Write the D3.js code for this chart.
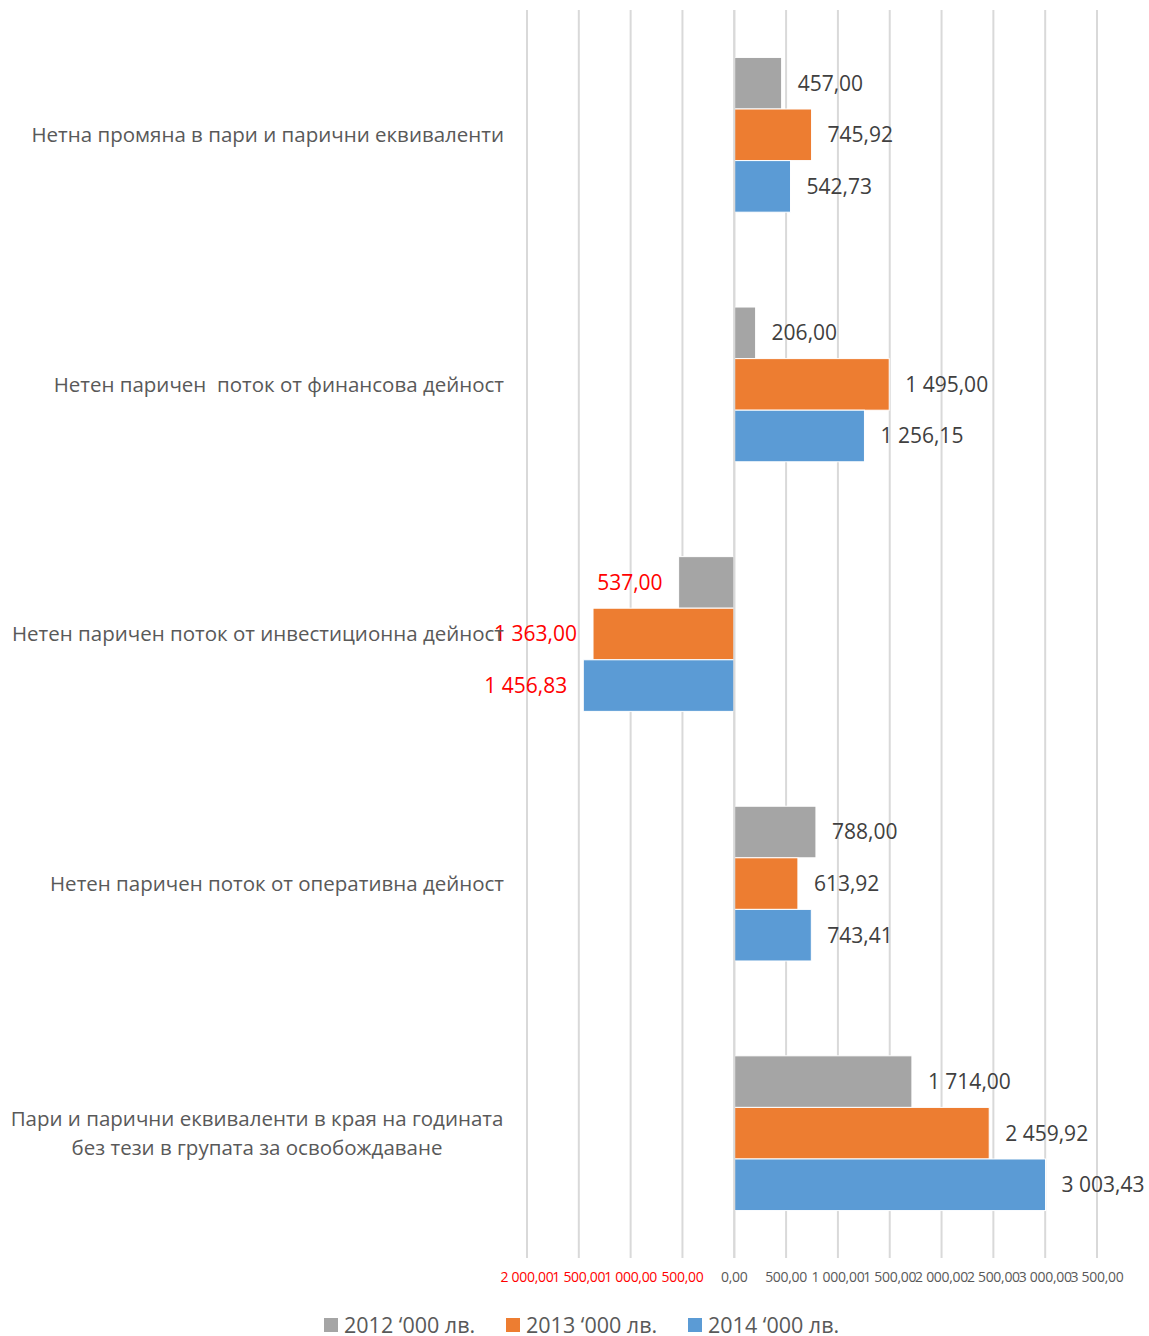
<!DOCTYPE html>
<html>
<head>
<meta charset="utf-8">
<script src="https://cdn.jsdelivr.net/npm/d3@7"></script>
<style>
  body { margin: 0; background: #fff; }
  text { font-family: "Open Sans", "Noto Sans", sans-serif; }
</style>
</head>
<body>
<div id="chart"></div>
<script>
const width = 1149;
const height = 1336;

// categories from top to bottom as drawn
const categories = [
    "Нетна промяна в пари и парични еквиваленти",
    "Нетен паричен  поток от финансова дейност",
    "Нетен паричен поток от инвестиционна дейност",
    "Нетен паричен поток от оперативна дейност",
    "Пари и парични еквиваленти в края на годината\nбез тези в групата за освобождаване"
];
const seriesNames = ["2012 ‘000 лв.", "2013 ‘000 лв.", "2014 ‘000 лв."];
const seriesColors = ["#a5a5a5", "#ed7d31", "#5b9bd5"];
const values2012 = [457.00, 206.00, -537.00, 788.00, 1714.00];
const values2013 = [745.92, 1495.00, -1363.00, 613.92, 2459.92];
const values2014 = [542.73, 1256.15, -1456.83, 743.41, 3003.43];
const tickValues = [-2000, -1500, -1000, -500, 0, 500, 1000, 1500, 2000, 2500, 3000, 3500];

const seriesValues = [values2012, values2013, values2014];

const plot = { left: 527, right: 1097, top: 10, bottom: 1258 };

const svg = d3.select("#chart")
    .append("svg")
    .attr("width", width)
    .attr("height", height);

const x = d3.scaleLinear()
    .domain([-2000, 3500])
    .range([plot.left, plot.right]);

const y0 = d3.scaleBand()
    .domain(categories)
    .range([plot.top, plot.bottom])
    .paddingInner(0.38)
    .paddingOuter(0.19);

const y1 = d3.scaleBand()
    .domain(seriesNames)
    .range([0, y0.bandwidth()]);

const fmt = v => {
    const s = d3.format(",.2f")(Math.abs(v));
    return s.replace(/,/g, " ").replace(".", ",");
};

// gridlines
svg.append("g")
    .selectAll("line")
    .data(tickValues)
    .join("line")
    .attr("x1", d => x(d))
    .attr("x2", d => x(d))
    .attr("y1", plot.top)
    .attr("y2", plot.bottom)
    .attr("stroke", "#d9d9d9")
    .attr("stroke-width", 2);

// tick labels
svg.append("g")
    .selectAll("text")
    .data(tickValues)
    .join("text")
    .attr("x", d => x(d))
    .attr("y", 1282)
    .attr("text-anchor", "middle")
    .attr("font-size", 14)
    .attr("letter-spacing", "-0.3")
    .attr("fill", d => d < 0 ? "#ff0000" : "#595959")
    .text(d => fmt(d));

// bars
const groups = svg.append("g")
    .selectAll("g")
    .data(categories)
    .join("g")
    .attr("transform", d => `translate(0,${y0(d)})`);

groups.each(function (cat, ci) {
    const g = d3.select(this);
    seriesNames.forEach((s, si) => {
        const v = seriesValues[si][ci];
        g.append("rect")
            .attr("x", x(Math.min(0, v)))
            .attr("y", y1(s))
            .attr("width", Math.abs(x(v) - x(0)))
            .attr("height", y1.bandwidth())
            .attr("fill", seriesColors[si])
            .attr("stroke", "#fff")
            .attr("stroke-width", 1);
        g.append("text")
            .attr("x", v < 0 ? x(v) - 16 : x(v) + 16)
            .attr("y", y1(s) + y1.bandwidth() / 2)
            .attr("dy", "0.35em")
            .attr("text-anchor", v < 0 ? "end" : "start")
            .attr("font-size", 21)
            .attr("fill", v < 0 ? "#ff0000" : "#404040")
            .text(fmt(v));
    });
});

// zero line
svg.append("line")
    .attr("x1", x(0)).attr("x2", x(0))
    .attr("y1", plot.top).attr("y2", plot.bottom)
    .attr("stroke", "#d9d9d9")
    .attr("stroke-width", 2);

// category labels
svg.append("g")
    .selectAll("text")
    .data(categories)
    .join("text")
    .attr("font-size", 20.5)
    .attr("fill", "#595959")
    .style("white-space", "pre")
    .each(function (d) {
        const lines = d.split("\n");
        const cy = y0(d) + y0.bandwidth() / 2;
        const t = d3.select(this);
        lines.forEach((line, i) => {
            t.append("tspan")
                .attr("x", lines.length > 1 ? 257 : 504)
                .attr("text-anchor", lines.length > 1 ? "middle" : "end")
                .attr("y", cy + (i - (lines.length - 1) / 2) * 29)
                .attr("dy", "0.35em")
                .text(line);
        });
    });

// legend
const legend = svg.append("g")
    .selectAll("g")
    .data(seriesNames)
    .join("g")
    .attr("transform", (d, i) => `translate(${324 + i * 182},1325)`);

legend.append("rect")
    .attr("x", 0).attr("y", -7)
    .attr("width", 14).attr("height", 14)
    .attr("fill", (d, i) => seriesColors[i]);

legend.append("text")
    .attr("x", 20)
    .attr("y", 0)
    .attr("dy", "0.35em")
    .attr("font-size", 21.5)
    .attr("fill", "#595959")
    .text(d => d);
</script>
</body>
</html>
